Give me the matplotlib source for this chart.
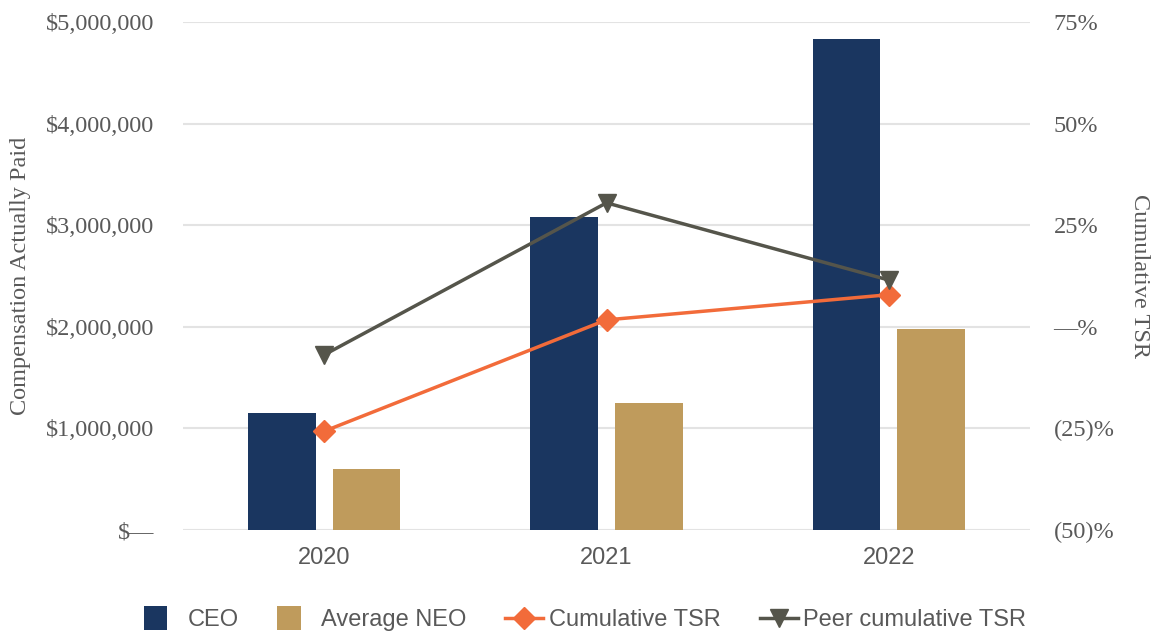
import numpy as np
import matplotlib.pyplot as plt
from matplotlib.patches import Rectangle
from matplotlib.container import BarContainer
from matplotlib.legend_handler import HandlerPatch
from matplotlib.ticker import FuncFormatter

years = ["2020", "2021", "2022"]
ceo_cap = [1150000, 3080000, 4830000]
neo_cap = [600000, 1250000, 1980000]
tsr = [-25.7, 1.7, 7.9]
peer_tsr = [-6.9, 30.5, 11.5]

navy = "#1a3660"
tan = "#bf9b5c"
orange = "#f26b3a"
grey = "#55554b"
txt = "#595959"

serif = ["Liberation Serif", "DejaVu Serif"]
sans = ["Liberation Sans", "DejaVu Sans"]

fig = plt.figure(figsize=(11.59, 6.37), dpi=100)
ax = fig.add_axes([183 / 1159, 1 - 530 / 637, 847 / 1159, 508 / 637])
ax2 = ax.twinx()

x = np.arange(len(years))
ax.bar(x - 0.15, ceo_cap, width=0.24, color=navy, label="CEO", zorder=2)
ax.bar(x + 0.15, neo_cap, width=0.24, color=tan, label="Average NEO", zorder=2)

ax2.plot(x, tsr, color=orange, lw=2.5, marker="D", ms=11, label="Cumulative TSR", zorder=3)
ax2.plot(x, peer_tsr, color=grey, lw=2.5, marker="v", ms=13, label="Peer cumulative TSR", zorder=3)

ax.set_xlim(-0.5, 2.5)
ax.set_ylim(0, 5000000)
ax2.set_ylim(-50, 75)
ax.set_yticks(np.arange(0, 5000001, 1000000))
ax2.set_yticks(np.arange(-50, 76, 25))

def money(v, pos):
    if v == 0:
        return "$\u2014"
    return "${:,.0f}".format(v)

def pct(v, pos):
    if v == 0:
        return "\u2014%"
    if v < 0:
        return "({:.0f})%".format(-v)
    return "{:.0f}%".format(v)

ax.yaxis.set_major_formatter(FuncFormatter(money))
ax2.yaxis.set_major_formatter(FuncFormatter(pct))
ax.set_xticks(x)
ax.set_xticklabels(years, fontfamily=sans, fontsize=17, color=txt)

for a in (ax, ax2):
    for s in a.spines.values():
        s.set_visible(False)
    a.tick_params(length=0)
    for lab in a.get_yticklabels():
        lab.set_fontfamily(serif)
        lab.set_fontsize(17.5)
        lab.set_color(txt)
ax.tick_params(axis="y", pad=21)
ax2.tick_params(axis="y", pad=17)
ax.tick_params(axis="x", pad=12)

ax.grid(axis="y", color="#e3e3e3", lw=1.5, zorder=0)
ax.set_axisbelow(True)

ax.set_ylabel("Compensation Actually Paid", fontfamily=serif, fontsize=17.5, color=txt)
ax.yaxis.set_label_coords(-0.179, 0.5)
ax2.set_ylabel("Cumulative TSR", fontfamily=serif, fontsize=17.5, color=txt, rotation=270)
ax2.yaxis.set_label_coords(1.142, 0.5)


# square swatches for the bar series
def square(legend, orig_handle, xdescent, ydescent, width, height, fontsize):
    s = fontsize * 1.0
    return Rectangle((-xdescent, -ydescent + height / 2 - s / 2), s, s)


def first_child(handle, orig):
    handle.update_from(orig[0])


h1, l1 = ax.get_legend_handles_labels()
h2, l2 = ax2.get_legend_handles_labels()
fig.legend(h1 + h2, l1 + l2, loc="center", bbox_to_anchor=(585 / 1159, 1 - 620 / 637),
           ncol=4, frameon=False, prop={"family": sans, "size": 17},
           labelcolor=txt, handlelength=1.6, columnspacing=1.65, handletextpad=0.25,
           handler_map={BarContainer: HandlerPatch(patch_func=square, update_func=first_child)})

fig.savefig("out.png", dpi=100)
